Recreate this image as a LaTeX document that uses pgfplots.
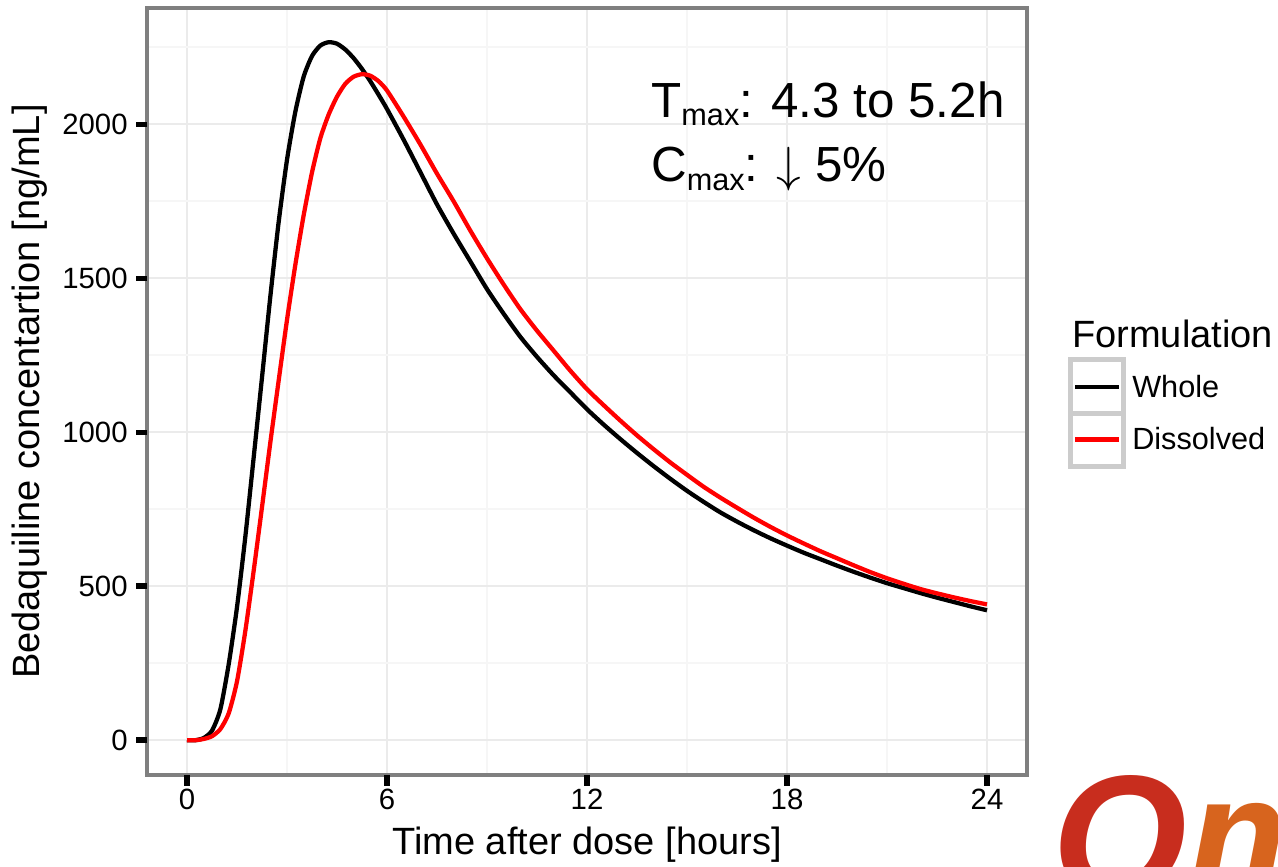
\documentclass[border=0pt]{standalone}
\usepackage{fontspec}
\setmainfont{Liberation Sans}
\usepackage{pgfplots}
\pgfplotsset{compat=1.18}
\definecolor{gridmaj}{RGB}{235,235,235}
\definecolor{gridmin}{RGB}{246,246,246}
\definecolor{frameg}{RGB}{127,127,127}
\definecolor{legbox}{RGB}{204,204,204}
\definecolor{logored}{RGB}{200,45,30}
\definecolor{logoorange}{RGB}{215,100,30}

\pgfplotstableread{
t c
0 0
0.25 0
0.5 7
0.75 31
1.0 100
1.25 246
1.5 432
1.75 661
2.0 918
2.25 1178
2.5 1441
2.75 1683
3.0 1885
3.25 2041
3.5 2155
3.75 2222
4.0 2256
4.25 2267
4.5 2262
4.75 2243
5.0 2215
5.25 2180
5.5 2140
5.75 2096
6.0 2050
6.5 1950
7.0 1845
7.5 1740
8.0 1645
8.5 1555
9.0 1465
9.5 1385
10.0 1310
10.5 1245
11.0 1185
11.5 1130
12.0 1075
12.5 1025
13.0 978
13.5 933
14.0 890
14.5 849
15.0 810
15.5 774
16.0 740
16.5 710
17.0 682
17.5 656
18.0 632
18.5 609
19.0 588
19.5 567
20.0 547
20.5 528
21.0 510
21.5 494
22.0 478
22.5 463
23.0 449
23.5 435
24.0 422
}\whole

\pgfplotstableread{
t c
0 0
0.25 0
0.5 4
0.75 13
1.0 36
1.25 87
1.5 191
1.75 355
2.0 550
2.25 757
2.5 967
2.75 1168
3.0 1365
3.25 1544
3.5 1705
3.75 1844
4.0 1955
4.25 2032
4.5 2090
4.75 2132
5.0 2155
5.25 2163
5.5 2158
5.75 2140
6.0 2110
6.5 2025
7.0 1935
7.5 1840
8.0 1750
8.5 1655
9.0 1565
9.5 1480
10.0 1400
10.5 1330
11.0 1265
11.5 1200
12.0 1140
12.5 1088
13.0 1038
13.5 990
14.0 945
14.5 902
15.0 862
15.5 823
16.0 788
16.5 755
17.0 723
17.5 693
18.0 665
18.5 639
19.0 614
19.5 591
20.0 568
20.5 546
21.0 526
21.5 508
22.0 491
22.5 477
23.0 464
23.5 452
24.0 441
}\dissolved

\begin{document}
\begin{tikzpicture}
\begin{axis}[
  at={(110.25pt,-581.25pt)}, anchor=south west,
  scale only axis, width=660pt, height=575.25pt,
  xmin=-1.2, xmax=25.2, ymin=-113, ymax=2378,
  clip=false,
  xtick={0,6,12,18,24}, ytick={0,500,1000,1500,2000},
  xticklabels={0,6,12,18,24}, yticklabels={0,500,1000,1500,2000},
  minor xtick={3,9,15,21}, minor ytick={250,750,1250,1750,2250},
  grid=both,
  major grid style={draw=gridmaj, line width=1.5pt},
  minor grid style={draw=gridmin, line width=1.5pt},
  tick pos=left, tick align=outside,
  major tick length=7pt, minor tick length=0pt,
  tick style={black, line width=4pt},
  axis line style={draw=frameg, line width=2.6pt},
  ticklabel style={font=\fontsize{22}{22}\selectfont},
  yticklabel style={xshift=-4pt},
  xlabel={Time after dose [hours]},
  ylabel={Bedaquiline concentartion [ng/mL]},
  label style={font=\fontsize{28.5}{28.5}\selectfont},
  xlabel style={at={(axis description cs:0.5,-0.0913)}, anchor=center},
  ylabel style={at={(axis description cs:-0.133,0.5)}, anchor=center},
]
\addplot[black, line width=3.2pt, smooth, tension=0.4, line join=round] table[x=t,y=c] {\whole};
\addplot[red, line width=3.2pt, smooth, tension=0.4, line join=round] table[x=t,y=c] {\dissolved};
% bold tick marks (axis decoration)
\pgfplotsinvokeforeach{0,6,12,18,24}{\draw[black, line width=4.2pt] (axis cs:#1,-113) -- ++(0pt,-8.2pt);}
\pgfplotsinvokeforeach{0,500,1000,1500,2000}{\draw[black, line width=4.2pt] (axis cs:-1.2,#1) -- ++(-8.2pt,0pt);}
\node[anchor=base west, inner sep=0pt, font=\fontsize{37}{37}\selectfont] at (axis cs:13.92,2023) {T\raisebox{-6.5pt}{\fontsize{23}{23}\selectfont max}: 4.3 to 5.2h};
\node[anchor=base west, inner sep=0pt, font=\fontsize{37}{37}\selectfont] at (axis cs:13.92,1815) {C\raisebox{-6.5pt}{\fontsize{23}{23}\selectfont max}: {\fontsize{10}{10}\selectfont\scalebox{3.7}{$\downarrow$}} 5\%};
\end{axis}
\begin{scope}[x=0.75pt,y=-0.75pt]
% legend
\node[anchor=base west, inner sep=0pt, font=\fontsize{28.5}{28.5}\selectfont] at (1072,347) {Formulation};
\draw[legbox, line width=3.75pt, fill=white] (1070,359) rectangle (1123,466);
\draw[legbox, line width=3.75pt] (1070,413.5) -- (1123,413.5);
\draw[black, line width=3.6pt] (1075,387) -- (1119,387);
\draw[red, line width=3.6pt] (1075,439.5) -- (1119,439.5);
\node[anchor=base west, inner sep=0pt, font=\fontsize{23}{23}\selectfont] at (1132,397) {Whole};
\node[anchor=base west, inner sep=0pt, font=\fontsize{23}{23}\selectfont] at (1132,449) {Dissolved};
% logo (partially visible, cut by the page edge as in the reference)
\node[anchor=base west, inner sep=0pt, font=\fontsize{130}{130}\selectfont\bfseries\itshape] at (1052,896) {\textcolor{logored}{O}\textcolor{logoorange}{mb}};
\pgfresetboundingbox
\path[use as bounding box] (0,0) rectangle (1278,867);
\end{scope}
\end{tikzpicture}
\end{document}
